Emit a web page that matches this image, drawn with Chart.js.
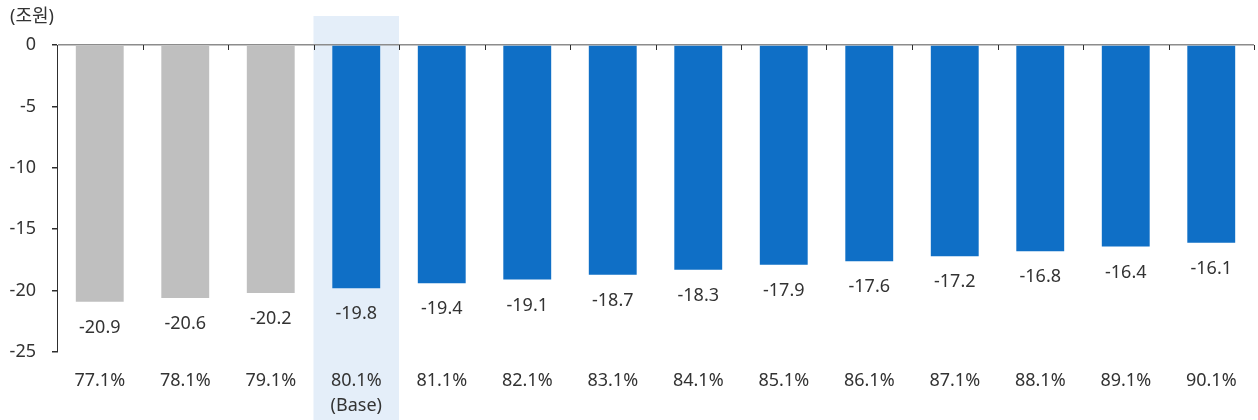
<!DOCTYPE html>
<html>
<head>
<meta charset="utf-8">
<script src="https://cdn.jsdelivr.net/npm/chart.js@4/dist/chart.umd.min.js"></script>
<style>
    html, body { margin: 0; padding: 0; background: #ffffff; }
    #wrap { width: 1258px; height: 420px; position: relative; }
</style>
</head>
<body>
<div id="wrap"><canvas id="gapChart" width="1258" height="420"></canvas></div>
<script>
// --- DATA ---
const categories = ['77.1%', '78.1%', '79.1%', ['80.1%', '(Base)'], '81.1%', '82.1%', '83.1%',
    '84.1%', '85.1%', '86.1%', '87.1%', '88.1%', '89.1%', '90.1%'];
const values = [-20.9, -20.6, -20.2, -19.8, -19.4, -19.1, -18.7, -18.3, -17.9, -17.6, -17.2, -16.8, -16.4, -16.1];
const yTicks = [0, -5, -10, -15, -20, -25];
const unitLabel = '(조원)';
const baseIndex = 3;
const greyCount = 3; // first three bars are grey

const GREY = '#bfbfbf';
const BLUE = '#0f6fc6';
const BAND = '#e4eef9';
const TEXT = '#333333';
const AXIS = '#2e2e2e';
const FONT = "'Noto Sans', 'Noto Sans CJK KR', sans-serif";

// --- PLUGIN: base band, unit label, category ticks, value labels ---
const decorPlugin = {
    id: 'decor',
    beforeDraw(chart) {
        const ctx = chart.ctx;
        const x = chart.scales.x;
        const half = (x.getPixelForValue(1) - x.getPixelForValue(0)) / 2;
        const cx = x.getPixelForValue(baseIndex);
        ctx.save();
        ctx.fillStyle = BAND;
        ctx.fillRect(cx - half, 16, half * 2, chart.height - 16);
        // unit label
        ctx.fillStyle = TEXT;
        ctx.font = '18px ' + FONT;
        ctx.textBaseline = 'middle';
        ctx.textAlign = 'left';
        ctx.fillText(unitLabel, 10, 17);
        ctx.restore();
    },
    afterDatasetsDraw(chart) {
        const ctx = chart.ctx;
        const x = chart.scales.x;
        const y = chart.scales.y;
        const top = y.getPixelForValue(0);
        const half = (x.getPixelForValue(1) - x.getPixelForValue(0)) / 2;
        ctx.save();
        // tick marks at category boundaries, pointing down from the zero line
        ctx.strokeStyle = AXIS;
        ctx.lineWidth = 1;
        for (let i = 0; i < categories.length; i++) {
            const bx = Math.round(x.getPixelForValue(i) + half) + 0.5;
            ctx.beginPath();
            ctx.moveTo(bx, top);
            ctx.lineTo(bx, top + 5);
            ctx.stroke();
        }
        // value labels under each bar
        ctx.fillStyle = TEXT;
        ctx.font = '18px ' + FONT;
        ctx.textAlign = 'center';
        ctx.textBaseline = 'middle';
        chart.getDatasetMeta(0).data.forEach((bar, i) => {
            ctx.fillText(values[i].toFixed(1), bar.x, bar.y + 26);
        });
        ctx.restore();
    }
};

const ctx = document.getElementById('gapChart').getContext('2d');
new Chart(ctx, {
    type: 'bar',
    data: {
        labels: categories,
        datasets: [{
            data: values,
            backgroundColor: values.map((v, i) => i < greyCount ? GREY : BLUE),
            borderWidth: 0,
            barPercentage: 0.56,
            categoryPercentage: 1
        }]
    },
    options: {
        responsive: false,
        animation: false,
        devicePixelRatio: 1,
        layout: { padding: { top: 45, right: 4, left: 0, bottom: 0 } },
        plugins: { legend: { display: false }, tooltip: { enabled: false } },
        scales: {
            x: {
                grid: { display: false },
                border: { display: false },
                ticks: {
                    color: TEXT,
                    font: { family: FONT, size: 18, lineHeight: 1.4 },
                    padding: 8,
                    maxRotation: 0,
                    autoSkip: false
                },
                afterFit(scale) { scale.height = 68; }
            },
            y: {
                min: -25,
                max: 0,
                afterBuildTicks(scale) { scale.ticks = yTicks.map(v => ({ value: v })); },
                grid: {
                    drawOnChartArea: true,
                    color: (c) => c.tick && c.tick.value === 0 ? '#8c8c8c' : 'rgba(0,0,0,0)',
                    tickColor: AXIS,
                    tickLength: 5,
                    lineWidth: 1.5
                },
                border: { display: true, color: AXIS, width: 1 },
                ticks: {
                    color: TEXT,
                    font: { family: FONT, size: 18 },
                    padding: 16
                },
                afterFit(scale) { scale.width = 57; }
            }
        }
    },
    plugins: [decorPlugin]
});
</script>
</body>
</html>
